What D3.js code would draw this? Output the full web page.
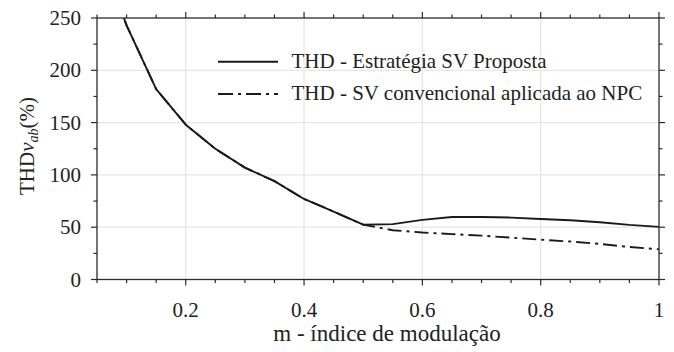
<!DOCTYPE html>
<html>
<head>
<meta charset="utf-8">
<script src="https://cdn.jsdelivr.net/npm/d3@7"></script>
<style>
  html, body { margin: 0; padding: 0; background: #fff; }
  svg text { font-family: "Liberation Serif", "Times New Roman", serif; fill: #222; }
</style>
</head>
<body>
<svg id="chart" width="674" height="352"></svg>
<script>
'use strict';

// ── データ ─────────────────────────────────────────────
const mIndex = [0.05, 0.1, 0.15, 0.2, 0.25, 0.3, 0.35, 0.4, 0.45, 0.5,
                0.55, 0.6, 0.65, 0.7, 0.75, 0.8, 0.85, 0.9, 0.95, 1.0];
const thdProposta = [320, 243, 182, 148, 125, 107, 94, 77, 65, 52.4,
                     52.9, 57, 59.8, 59.8, 59.2, 57.9, 56.7, 54.8, 52.2, 50.3];
const thdConvencional = [320, 243, 182, 148, 125, 107, 94, 77, 65, 52.4,
                         47.1, 44.9, 43.4, 41.9, 40.0, 38.1, 36.3, 34.0, 31.1, 28.9];
const xTicks = [0.2, 0.4, 0.6, 0.8, 1];
const yTicks = [0, 50, 100, 150, 200, 250];
const legendLabels = ['THD - Estratégia SV Proposta', 'THD - SV convencional aplicada ao NPC'];

// ── レイアウト ─────────────────────────────────────────
const M = { left: 97, top: 18, right: 659, bottom: 279.5 };
const AXIS = '#2b2b2b';
const GRID = '#e6e6e6';

const svg = d3.select('#chart');

const x = d3.scaleLinear().domain([0.05, 1]).range([M.left, M.right]);
const y = d3.scaleLinear().domain([0, 250]).range([M.bottom, M.top]);

const minorX = d3.range(0.05, 1.0001, 0.05).map(v => +v.toFixed(2));
const minorY = d3.range(0, 250.1, 25);

// グリッド
svg.append('g').selectAll('line.gx')
  .data(xTicks.filter(v => v < 1))
  .join('line')
  .attr('x1', d => x(d)).attr('x2', d => x(d))
  .attr('y1', M.top).attr('y2', M.bottom)
  .attr('stroke', GRID).attr('stroke-width', 1.3);

svg.append('g').selectAll('line.gy')
  .data(yTicks.filter(v => v > 0 && v < 250))
  .join('line')
  .attr('x1', M.left).attr('x2', M.right)
  .attr('y1', d => y(d)).attr('y2', d => y(d))
  .attr('stroke', GRID).attr('stroke-width', 1.3);

// 軸（4辺、目盛りは外向き）
function tickLen(major) { return major ? 6 : 3.5; }
const isMajorX = v => xTicks.some(t => Math.abs(t - v) < 1e-6);
const isMajorY = v => yTicks.includes(v);

const axisG = svg.append('g').attr('stroke', AXIS).attr('stroke-width', 1.2);
minorX.forEach(v => {
  const L = tickLen(isMajorX(v));
  axisG.append('line').attr('x1', x(v)).attr('x2', x(v)).attr('y1', M.bottom).attr('y2', M.bottom + L);
  axisG.append('line').attr('x1', x(v)).attr('x2', x(v)).attr('y1', M.top).attr('y2', M.top - L);
});
minorY.forEach(v => {
  const L = tickLen(isMajorY(v));
  axisG.append('line').attr('y1', y(v)).attr('y2', y(v)).attr('x1', M.left).attr('x2', M.left - L);
  axisG.append('line').attr('y1', y(v)).attr('y2', y(v)).attr('x1', M.right).attr('x2', M.right + L);
});

// 曲線（クリップ）
svg.append('clipPath').attr('id', 'plotClip')
  .append('rect')
  .attr('x', M.left).attr('y', M.top)
  .attr('width', M.right - M.left).attr('height', M.bottom - M.top);

const line = d3.line().x(d => x(d[0])).y(d => y(d[1]));
const lines = svg.append('g').attr('clip-path', 'url(#plotClip)');

lines.append('path')
  .datum(mIndex.map((m, i) => [m, thdConvencional[i]]))
  .attr('d', line)
  .attr('fill', 'none').attr('stroke', '#1a1a1a')
  .attr('stroke-width', 1.9)
  .attr('stroke-dasharray', '14,5,3,5');

lines.append('path')
  .datum(mIndex.map((m, i) => [m, thdProposta[i]]))
  .attr('d', line)
  .attr('fill', 'none').attr('stroke', '#1a1a1a')
  .attr('stroke-width', 1.9)
  .attr('stroke-linejoin', 'round');

// 枠
svg.append('rect')
  .attr('x', M.left).attr('y', M.top)
  .attr('width', M.right - M.left).attr('height', M.bottom - M.top)
  .attr('fill', 'none').attr('stroke', AXIS).attr('stroke-width', 1.3);

// 目盛りラベル
svg.append('g').selectAll('text')
  .data(xTicks)
  .join('text')
  .attr('x', d => x(d)).attr('y', 317)
  .attr('text-anchor', 'middle')
  .attr('font-size', 21)
  .text(d => d3.format('~g')(d));

svg.append('g').selectAll('text')
  .data(yTicks)
  .join('text')
  .attr('x', 81).attr('y', d => y(d) + 7)
  .attr('text-anchor', 'end')
  .attr('font-size', 21)
  .text(d => d);

// 軸タイトル
svg.append('text')
  .attr('x', 387).attr('y', 341)
  .attr('text-anchor', 'middle')
  .attr('font-size', 23)
  .text('m - índice de modulação');

const yl = svg.append('text')
  .attr('transform', 'translate(34,146) rotate(-90)')
  .attr('text-anchor', 'middle')
  .attr('font-size', 21);
yl.append('tspan').text('THD');
yl.append('tspan').attr('font-style', 'italic').text('v');
yl.append('tspan').attr('font-style', 'italic').attr('font-size', 14).attr('dy', 4).text('ab');
yl.append('tspan').attr('dy', -4).text('(%)');

// 凡例
const legend = svg.append('g');
legendLabels.forEach((lab, i) => {
  const ly = 61.7 + i * 32.3;
  legend.append('line')
    .attr('x1', 218).attr('x2', 278).attr('y1', ly).attr('y2', ly)
    .attr('stroke', '#1a1a1a').attr('stroke-width', 1.9)
    .attr('stroke-dasharray', i === 0 ? null : '15,5,3,5');
  legend.append('text')
    .attr('x', 291.5).attr('y', ly + 5.8)
    .attr('font-size', 21)
    .text(lab);
});
</script>
</body>
</html>
